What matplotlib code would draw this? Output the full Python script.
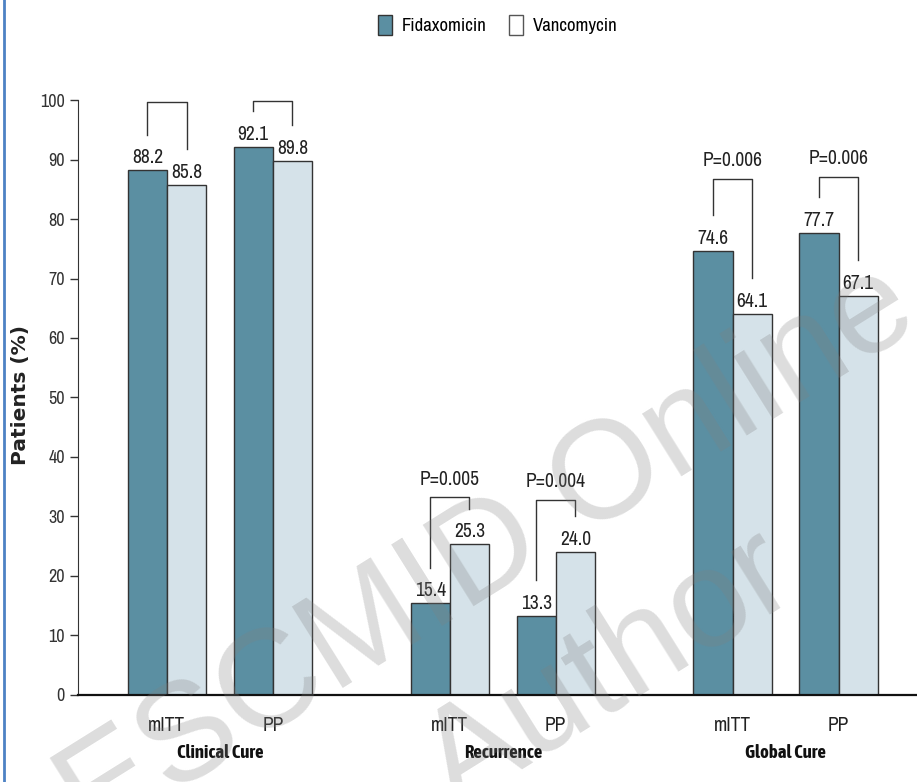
import numpy as np
import matplotlib.pyplot as plt
from matplotlib.patches import Patch
from matplotlib.lines import Line2D
from matplotlib import font_manager


def weight_num(w):
    if isinstance(w, str):
        return font_manager.weight_dict.get(w, 400)
    return w


# look for an upright narrow sans family, preferably one that also has a bold face
narrow = {}
for f in font_manager.fontManager.ttflist:
    if f.style != 'normal':
        continue
    if 'Narrow' in f.name or 'Condensed' in f.name or str(f.stretch) == 'condensed':
        narrow.setdefault(f.name, set()).add(weight_num(f.weight))
regular_fam = [n for n in sorted(narrow) if 400 in narrow[n]][:1] or sorted(narrow)[:1]
bold_fam = [n for n in sorted(narrow) if max(narrow[n]) >= 700][:1] or regular_fam

plt.rcParams['font.family'] = regular_fam + ['DejaVu Sans']
plt.rcParams['font.stretch'] = 'condensed'

groups = ['Clinical Cure', 'Recurrence', 'Global Cure']
populations = ['mITT', 'PP']
fidaxomicin = [88.2, 92.1, 15.4, 13.3, 74.6, 77.7]
vancomycin = [85.8, 89.8, 25.3, 24.0, 64.1, 67.1]
p_values = [None, None, 'P=0.005', 'P=0.004', 'P=0.006', 'P=0.006']
bracket_tops = [99.7, 99.9, 33.2, 32.8, 86.8, 87.0]

fid_color = '#5b8fa2'
van_color = '#d5e2e9'
edge = '#333333'

fig = plt.figure(figsize=(9.17, 7.82), dpi=100)
ax = fig.add_axes([0.085, 0.1113, 0.915, 0.7608])

group_gap = 2.67
pos = np.array([g * group_gap + s for g in range(len(groups)) for s in range(len(populations))])
w = 0.37

ax.bar(pos - w / 2, fidaxomicin, w, color=fid_color, edgecolor=edge, linewidth=1)
ax.bar(pos + w / 2, vancomycin, w, color=van_color, edgecolor=edge, linewidth=1)

# value labels above each bar
for x, f, v in zip(pos, fidaxomicin, vancomycin):
    ax.text(x - w / 2, f + 0.5, f'{f:.1f}', ha='center', va='bottom', fontsize=14, color='#222222')
    ax.text(x + w / 2, v + 0.5, f'{v:.1f}', ha='center', va='bottom', fontsize=14, color='#222222')

# comparison brackets
for x, f, v, top, p in zip(pos, fidaxomicin, vancomycin, bracket_tops, p_values):
    xl, xr = x - w / 2, x + w / 2
    ax.plot([xl, xl, xr, xr], [f + 6, top, top, v + 6], color='#333333', lw=1, clip_on=False)
    if p:
        ax.text(x, top + 1.5, p, ha='center', va='bottom', fontsize=14, color='#222222')

ax.set_ylim(0, 100)
ax.set_xlim(-0.84, 7.08)
ax.set_yticks(np.arange(0, 101, 10))
ax.tick_params(axis='y', labelsize=13, length=6, width=1, colors='#333333')
ax.set_xticks(pos)
ax.set_xticklabels(populations * len(groups))
ax.tick_params(axis='x', length=0, pad=15, labelsize=14, labelcolor='#222222')

for s in ['top', 'right']:
    ax.spines[s].set_visible(False)
ax.spines['left'].set_color('#333333')
ax.spines['bottom'].set_linewidth(1.6)
ax.spines['bottom'].set_color('#111111')

for g, name in enumerate(groups):
    gx = g * group_gap + 0.5
    ax.text(gx, -0.098, name, transform=ax.get_xaxis_transform(), ha='center', va='center',
            fontsize=13.5, fontweight='bold', fontstyle='normal',
            family=bold_fam + ['DejaVu Sans'], color='#111111')

fig.text(0.022, 0.495, 'Patients (%)', rotation=90, ha='center', va='center',
         fontsize=14.5, fontweight='bold', family='DejaVu Sans', stretch='normal', color='#222222')

handles = [Patch(facecolor=fid_color, edgecolor=edge, label='Fidaxomicin'),
           Patch(facecolor='white', edgecolor='#555555', label='Vancomycin')]
fig.legend(handles=handles, loc='center', bbox_to_anchor=(0.543, 0.968), ncol=2, frameon=False,
           fontsize=13.5, handlelength=0.75, handleheight=1.3, handletextpad=0.5, columnspacing=1.2)

# left border line
fig.add_artist(Line2D([0.004, 0.004], [0, 1], color='#4d82c4', lw=2, transform=fig.transFigure))

# watermark
fig.text(0.532, 0.29, 'ESCMID Online', rotation=32, ha='center', va='center', fontsize=100,
         family='Liberation Sans', stretch='normal', color='#808080', alpha=0.27, zorder=10)
fig.text(0.665, 0.14, 'Author', rotation=32, ha='center', va='center', fontsize=100,
         family='Liberation Sans', stretch='normal', color='#808080', alpha=0.27, zorder=10)

fig.savefig('out.png', dpi=100)
